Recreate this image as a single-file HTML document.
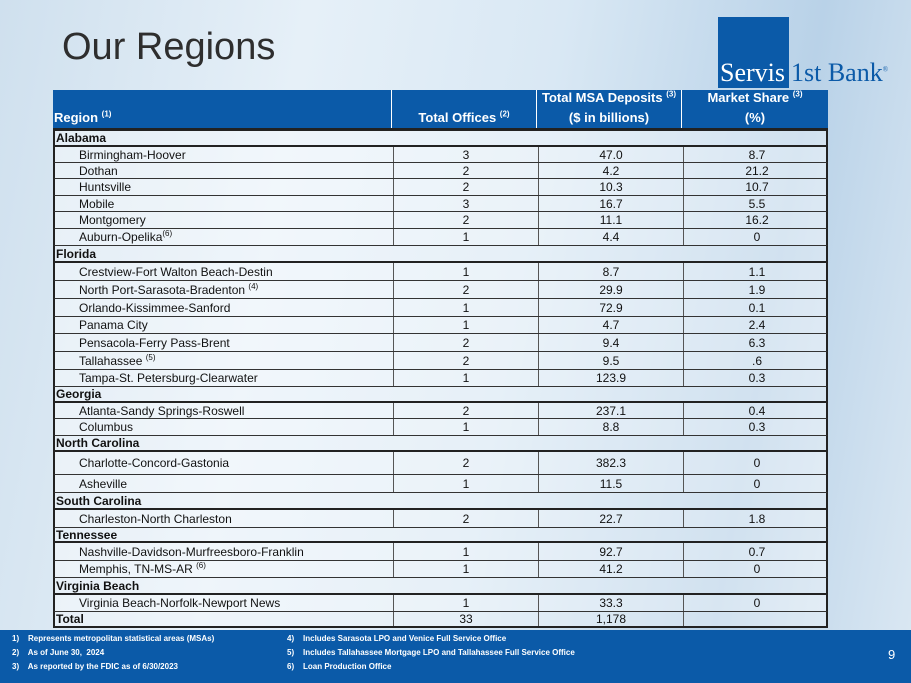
<!DOCTYPE html>
<html><head><meta charset="utf-8"><style>
*{margin:0;padding:0;box-sizing:border-box}
body{width:911px;height:683px;overflow:hidden;position:relative;font-family:"Liberation Sans Narrow","Liberation Sans",sans-serif;background:linear-gradient(100deg,#cfe0ee 0%,#e6f0f8 30%,#d9e8f4 55%,#b9d2e8 80%,#dbe8f3 100%)}
#title{position:absolute;left:62px;top:26px;font-size:38px;color:#2e2e2e;font-family:"Liberation Sans Narrow","Liberation Sans",sans-serif}
#logo-box{position:absolute;left:718px;top:17px;width:71px;height:71px;background:#0b5aa8}
.logo-t{position:absolute;top:59px;font-family:"Liberation Serif",serif;font-size:26px;line-height:28px}
#tbl{position:absolute;left:53px;top:90px;width:775px}
.row{position:absolute;left:0;width:775px;border-bottom:1px solid #333;font-size:12px;color:#111}
.c{position:absolute;top:0;height:100%;display:flex;align-items:center}
.c>span{display:block;white-space:nowrap}
.hdr{background:#0b5aa8;color:#fff;font-weight:bold;font-size:13px;border-bottom:3px solid #222}
.sec{font-weight:bold;background:rgba(255,255,255,.35);border-bottom:2px solid #222}
.det{background:rgba(255,255,255,.45)}
sup{font-size:8px;vertical-align:super;line-height:0}
#footer{position:absolute;left:0;top:630px;width:911px;height:53px;background:#0b5aa8;color:#fff;font-size:8px;font-weight:bold}
.fn{position:absolute}
</style></head><body>
<div id="title">Our Regions</div>
<div id="logo-box"></div>
<div class="logo-t" style="left:720px;color:#fff">Servis</div>
<div class="logo-t" style="left:791px;color:#0b5aa8">1st Bank<sup style="font-size:7px">®</sup></div>
<div id="tbl"></div>
<div id="footer">
<div class="fn" style="left:12px;top:4px">1)&nbsp;&nbsp;&nbsp; Represents metropolitan statistical areas (MSAs)</div>
<div class="fn" style="left:12px;top:18px">2)&nbsp;&nbsp;&nbsp; As of June 30,&nbsp; 2024</div>
<div class="fn" style="left:12px;top:32px">3)&nbsp;&nbsp;&nbsp; As reported by the FDIC as of 6/30/2023</div>
<div class="fn" style="left:287px;top:4px">4)&nbsp;&nbsp;&nbsp; Includes Sarasota LPO and Venice Full Service Office</div>
<div class="fn" style="left:287px;top:18px">5)&nbsp;&nbsp;&nbsp; Includes Tallahassee Mortgage LPO and Tallahassee Full Service Office</div>
<div class="fn" style="left:287px;top:32px">6)&nbsp;&nbsp;&nbsp; Loan Production Office</div>
<div class="fn" style="left:888px;top:17px;font-size:13px;font-weight:normal">9</div>
</div>
<script>
const regionNames=["Alabama","Birmingham-Hoover","Dothan","Huntsville","Mobile","Montgomery","Auburn-Opelika<sup>(6)</sup>","Florida","Crestview-Fort Walton Beach-Destin","North Port-Sarasota-Bradenton <sup>(4)</sup>","Orlando-Kissimmee-Sanford","Panama City","Pensacola-Ferry Pass-Brent","Tallahassee <sup>(5)</sup>","Tampa-St. Petersburg-Clearwater","Georgia","Atlanta-Sandy Springs-Roswell","Columbus","North Carolina","Charlotte-Concord-Gastonia","Asheville","South Carolina","Charleston-North Charleston","Tennessee","Nashville-Davidson-Murfreesboro-Franklin","Memphis, TN-MS-AR <sup>(6)</sup>","Virginia Beach","Virginia Beach-Norfolk-Newport News","Total"];
const rowKinds=["s","d","d","d","d","d","d","s","d","d","d","d","d","d","d","s","d","d","s","d","d","s","d","s","d","d","s","d","t"];
const officeValues=["","3","2","2","3","2","1","","1","2","1","1","2","2","1","","2","1","","2","1","","2","","1","1","","1","33"];
const depositValues=["","47.0","4.2","10.3","16.7","11.1","4.4","","8.7","29.9","72.9","4.7","9.4","9.5","123.9","","237.1","8.8","","382.3","11.5","","22.7","","92.7","41.2","","33.3","1,178"];
const shareValues=["","8.7","21.2","10.7","5.5","16.2","0","","1.1","1.9","0.1","2.4","6.3",".6","0.3","","0.4","0.3","","0","0","","1.8","","0.7","0","","0",""];
const rowTops=[131,147,163,179,196,212,229,246,263,281,299,317,334,352,370,387,403,419,436,452,475,493,510,528,543,561,578,595,612,628];
const colX=[0,338,483,628,775];
const tbl=document.getElementById('tbl');
function cell(row,x,w,html,align,pad){const c=document.createElement('div');c.className='c';c.style.left=x+'px';c.style.width=w+'px';c.style.justifyContent=align;if(pad)c.style.paddingLeft=pad+'px';const s=document.createElement('span');s.innerHTML=html;c.appendChild(s);row.appendChild(c);return c;}
const h=document.createElement('div');


h.className='row hdr';h.style.top='0px';h.style.height='41px';
[["Region <sup>(1)</sup>","flex-start"],["Total Offices <sup>(2)</sup>","center"],["Total MSA Deposits <sup>(3)</sup><br>($ in billions)","center"],["Market Share <sup>(3)</sup><br>(%)","center"]].forEach((t,i)=>{const c=cell(h,colX[i],colX[i+1]-colX[i],t[0],t[1],i?0:1);c.style.alignItems='flex-end';c.style.paddingBottom='0px';c.style.textAlign='center';c.style.lineHeight='20px';if(i)c.style.borderLeft='1px solid #fff';});
tbl.appendChild(h);
regionNames.forEach((n,i)=>{
const r=document.createElement('div');


const k=rowKinds[i];
r.className='row '+(k==='s'?'sec':k==='t'?'sec':'det');
if(k==='t'){r.style.borderBottom='2px solid #222';r.style.fontWeight='bold';}
r.style.top=(rowTops[i]-90)+'px';r.style.height=(rowTops[i+1]-rowTops[i])+'px';
r.style.borderLeft='2px solid #222';r.style.borderRight='2px solid #222';
cell(r,0,colX[1],n,'flex-start',k==='d'?24:1);
if(k!=='s'){[officeValues[i],depositValues[i],shareValues[i]].forEach((v,j)=>{const c=cell(r,colX[j+1],colX[j+2]-colX[j+1],v,'center');c.style.borderLeft='1px solid #555';if(k==='t')c.style.fontWeight='normal';});}
tbl.appendChild(r);
});
</script>
</body></html>
